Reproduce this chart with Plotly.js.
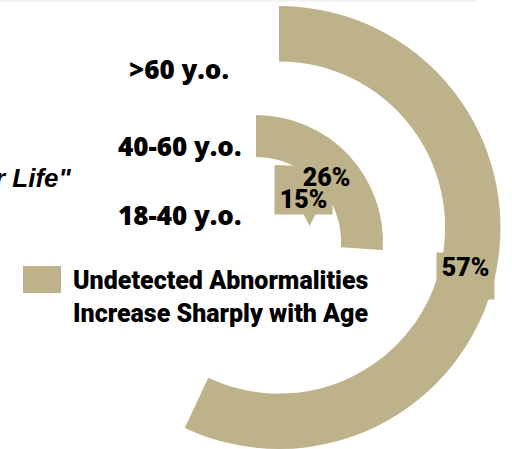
<!DOCTYPE html>
<html>
<head>
<meta charset="utf-8">
<script src="https://cdn.plot.ly/plotly-3.0.1.min.js"></script>
<style>html,body{margin:0;padding:0;background:#fff;}#chart{width:512px;height:449px;}</style>
</head>
<body>
<div id="chart"></div>
<script>
// ---- data ----
const ageGroups = ['18-40 y.o.', '40-60 y.o.', '>60 y.o.'];
const pctValues = [15, 26, 57];
const pctLabels = ['15%', '26%', '57%'];
const legendText = 'Undetected Abnormalities<br>Increase Sharply with Age';
const titleFragment = 'r Life"';

// ---- style / layout ----
const TAN = '#BEB28A';
const W = 512, H = 449;
const px = x => x / W;
const py = y => 1 - y / H;

// ring placement per age group (center px, outer radius px, hole)
const rings = [
  {cx: 275, cy: 213, r: 48, hole: 0},
  {cx: 256, cy: 242, r: 127, hole: 0.67},
  {cx: 279, cy: 227.5, r: 221.5, hole: 0.75}
];

const traces = pctValues.map((v, i) => {
  const g = rings[i];
  return {
    type: 'pie',
    values: [v, 100 - v],
    labels: [ageGroups[i], 'rest'],
    sort: false,
    direction: 'clockwise',
    rotation: 0,
    hole: g.hole,
    textinfo: 'none',
    hoverinfo: 'skip',
    showlegend: false,
    marker: {colors: [TAN, 'rgba(0,0,0,0)'], line: {width: 0}},
    domain: {
      x: [px(g.cx - g.r), px(g.cx + g.r)],
      y: [Math.max(0, py(g.cy + g.r)), Math.min(1, py(g.cy - g.r))]
    }
  };
});

const ageLabelY = [215, 146, 69];
const annotations = [];
ageGroups.forEach((a, i) => {
  annotations.push({
    xref: 'paper', yref: 'paper', x: px(179), y: py(ageLabelY[i]),
    xanchor: 'center', yanchor: 'middle', showarrow: false,
    text: a, font: {family: 'Open Sans', size: 26, color: '#000', weight: 800}
  });
});

annotations.push({
  xref: 'paper', yref: 'paper', x: px(74), y: py(178),
  xanchor: 'right', yanchor: 'middle', showarrow: false,
  text: '<b><i>' + titleFragment + '</i></b>',
  font: {family: 'Liberation Sans', size: 26, color: '#000'}
});

annotations.push({
  xref: 'paper', yref: 'paper', x: px(71), y: py(297),
  xanchor: 'left', yanchor: 'middle', align: 'left', showarrow: false,
  text: legendText,
  font: {family: 'Roboto', size: 25, color: '#000', weight: 900}
});

// pointer under the 15% box
annotations.push({
  xref: 'paper', yref: 'paper', x: px(310), y: py(218),
  xanchor: 'center', yanchor: 'middle', showarrow: false,
  text: '▼', font: {family: 'DejaVu Sans', size: 17, color: TAN}
});

// percentage label boxes
const boxSpec = [
  {x: 303.5, y: 190, w: 57, h: 48, valign: 'bottom'},
  {x: 326, y: 177, w: 57, h: 21, valign: 'middle'},
  {x: 465.5, y: 276, w: 57, h: 46, valign: 'top'}
];
pctLabels.forEach((t, i) => {
  const b = boxSpec[i];
  annotations.push({
    xref: 'paper', yref: 'paper', x: px(b.x), y: py(b.y),
    xanchor: 'center', yanchor: 'middle', showarrow: false,
    width: b.w, height: b.h, valign: b.valign, align: 'center',
    bgcolor: TAN, borderpad: 0,
    text: t, font: {family: 'Roboto', size: 25, color: '#000', weight: 900}
  });
});

const shapes = [
  {type: 'rect', xref: 'paper', yref: 'paper', x0: px(0), x1: px(477), y0: py(1.5), y1: 1,
   fillcolor: '#f0f0f0', line: {width: 0}, layer: 'below'},
  {type: 'rect', xref: 'paper', yref: 'paper', x0: px(23), x1: px(61), y0: py(293), y1: py(266),
   fillcolor: TAN, line: {width: 0}}
];

const layout = {
  width: W, height: H,
  margin: {l: 0, r: 0, t: 0, b: 0},
  paper_bgcolor: '#fff', plot_bgcolor: '#fff',
  showlegend: false,
  annotations: annotations,
  shapes: shapes
};

Plotly.newPlot('chart', traces, layout, {displayModeBar: false, staticPlot: true});
</script>
</body>
</html>
